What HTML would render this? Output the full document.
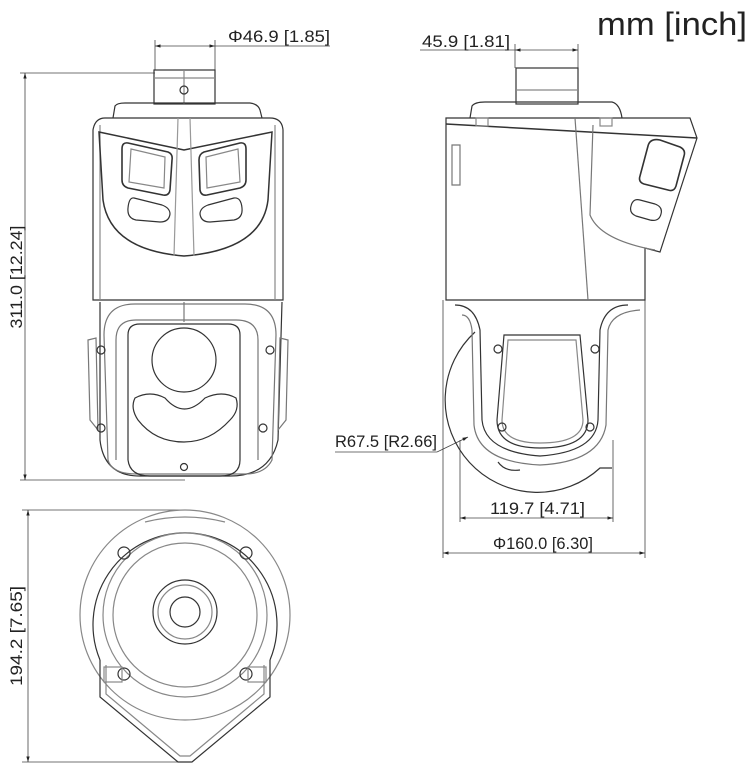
<!DOCTYPE html>
<html><head><meta charset="utf-8"><style>
html,body{margin:0;padding:0;background:#fff;}
svg{display:block;}
text{font-family:"Liberation Sans",sans-serif;fill:#222;}
</style></head><body>
<svg width="753" height="767" viewBox="0 0 753 767" xmlns="http://www.w3.org/2000/svg">
<defs>
<marker id="a" viewBox="0 0 10 10" refX="10" refY="5" markerWidth="7" markerHeight="7" orient="auto-start-reverse"><path d="M0,2 L10,5 L0,8 z" fill="#222"/></marker>
</defs>
<text x="597" y="35" font-size="32" fill="#444" textLength="150" lengthAdjust="spacingAndGlyphs">mm [inch]</text>

<g stroke="#444" stroke-width="0.8" fill="none">
<line x1="155" y1="46" x2="215" y2="46" marker-start="url(#a)" marker-end="url(#a)"/>
<line x1="215" y1="46" x2="330" y2="46"/>
<line x1="155" y1="40" x2="155" y2="70"/>
<line x1="215" y1="40" x2="215" y2="70"/>
<line x1="20" y1="73" x2="155" y2="73"/>
<line x1="20" y1="480" x2="185" y2="480"/>
<line x1="25" y1="73" x2="25" y2="480" marker-start="url(#a)" marker-end="url(#a)"/>
</g>
<text x="228" y="42" font-size="17" textLength="102" lengthAdjust="spacingAndGlyphs">Φ46.9 [1.85]</text>
<text transform="translate(22,277) rotate(-90)" font-size="17" text-anchor="middle" textLength="103" lengthAdjust="spacingAndGlyphs">311.0 [12.24]</text>

<g stroke="#333" stroke-width="1.2" fill="none">
<rect x="154" y="70" width="61" height="34"/>
<line x1="154" y1="78" x2="215" y2="78" stroke="#888"/>
<line x1="184" y1="70" x2="184" y2="104" stroke="#888"/>
<circle cx="184" cy="90" r="4"/>
<path d="M113,118 L115,106 Q117,103 125,103 L250,103 Q258,104 260,110 L262,118"/>
<path d="M93,300 L93,130 Q95,118 105,118 L270,118 Q282,118 283,130 L283,300 Z"/>
<line x1="100" y1="125" x2="100" y2="300" stroke="#888"/>
<line x1="275" y1="125" x2="275" y2="300" stroke="#888"/>
<path d="M99,132 L184,150 L272,132 L268,200 Q262,250 184,256 Q110,250 103,200 Z" stroke-width="1.5"/>
<line x1="178" y1="118" x2="174" y2="256" stroke="#999"/>
<line x1="190" y1="118" x2="194" y2="256" stroke="#999"/>
<path d="M128,143 L168,152 Q173,154 172,160 L170,190 Q169,196 163,195 L128,188 Q122,186 122,180 L122,149 Q122,142 128,143 Z" stroke-width="1.6"/>
<path d="M131,149 L165,157 L164,188 L129,182 Z" stroke="#888"/>
<path d="M240,143 L204,152 Q199,154 199,160 L200,190 Q201,196 207,195 L240,188 Q246,186 246,180 L246,149 Q246,142 240,143 Z" stroke-width="1.6"/>
<path d="M238,149 L206,157 L207,188 L240,182 Z" stroke="#888"/>
<path d="M134,198 L162,205 Q170,208 170,214 Q169,222 160,222 L136,220 Q127,218 128,208 Q129,197 134,198 Z"/>
<path d="M234,198 L208,205 Q200,208 200,214 Q201,222 210,222 L234,220 Q243,218 242,208 Q241,197 234,198 Z"/>
<path d="M100,302 L100,440 Q104,476 140,476 L230,476 Q270,476 278,440 L282,302"/>
<path d="M104,335 Q104,304 135,304 L245,304 Q276,304 276,335 L272,460 Q265,474 245,474 L137,474 Q112,474 108,460 Z" stroke="#777"/>
<path d="M116,460 L116,340 Q116,320 136,320 L236,320 Q258,320 258,340 L258,460" stroke="#777"/>
<path d="M128,460 L128,335 Q128,324 140,324 L228,324 Q240,324 240,335 L240,460" />
<path d="M128,460 Q130,476 150,476 L220,476 Q240,476 240,460" />
<line x1="184" y1="302" x2="184" y2="322" stroke="#777"/>
<circle cx="184" cy="360" r="32"/>
<path d="M135,398 Q150,390 165,398 Q184,420 205,398 Q222,390 236,398 Q240,410 230,420 Q210,442 184,442 Q155,442 138,420 Q130,408 135,398 Z"/>
<circle cx="184" cy="467" r="3.5"/>
<path d="M88,340 L96,338 L98,430 L90,420 Z" stroke="#777"/>
<path d="M288,340 L280,338 L278,430 L286,420 Z" stroke="#777"/>
<circle cx="101" cy="350" r="4"/><circle cx="270" cy="350" r="4"/>
<circle cx="101" cy="428" r="4"/><circle cx="263" cy="428" r="4"/>
</g>

<g stroke="#444" stroke-width="0.8" fill="none">
<line x1="420" y1="50" x2="515" y2="50"/>
<line x1="515" y1="50" x2="578" y2="50" marker-start="url(#a)" marker-end="url(#a)"/>
<line x1="515" y1="44" x2="515" y2="68"/>
<line x1="578" y1="44" x2="578" y2="68"/>
<line x1="443" y1="300" x2="443" y2="558"/>
<line x1="645" y1="300" x2="645" y2="558"/>
<line x1="443" y1="553" x2="645" y2="553" marker-start="url(#a)" marker-end="url(#a)"/>
<line x1="460" y1="440" x2="460" y2="522"/>
<line x1="613" y1="440" x2="613" y2="522"/>
<line x1="460" y1="518" x2="613" y2="518" marker-start="url(#a)" marker-end="url(#a)"/>
<line x1="335" y1="452" x2="437" y2="452"/>
<line x1="437" y1="452" x2="468" y2="437" marker-end="url(#a)"/>
</g>
<text x="422" y="47" font-size="17" textLength="88" lengthAdjust="spacingAndGlyphs">45.9 [1.81]</text>
<text x="490" y="514" font-size="17" textLength="95" lengthAdjust="spacingAndGlyphs">119.7 [4.71]</text>
<text x="493" y="549" font-size="17" textLength="100" lengthAdjust="spacingAndGlyphs">Φ160.0 [6.30]</text>
<text x="335" y="447" font-size="17" textLength="102" lengthAdjust="spacingAndGlyphs">R67.5 [R2.66]</text>

<g stroke="#333" stroke-width="1.2" fill="none">
<rect x="516" y="68" width="62" height="36"/>
<line x1="516" y1="90" x2="578" y2="90" stroke="#888"/>
<path d="M470,118 L472,106 Q475,102 485,102 L612,102 Q620,104 622,118"/>
<path d="M446,300 L446,118 L690,118 L697,138 L660,252 L645,248 L645,300 Z"/>
<line x1="446" y1="124" x2="697" y2="138" stroke-width="1.5"/>
<line x1="575" y1="118" x2="588" y2="300" stroke="#777"/>
<path d="M593,125 L590,215 Q600,240 655,250" stroke="#777"/>
<path d="M660,140 L680,147 Q686,150 684,156 L676,186 Q674,192 668,190 L644,184 Q638,182 640,176 L648,146 Q650,138 660,140 Z" stroke-width="1.6"/>
<path d="M640,200 L655,204 Q663,207 661,214 Q659,222 650,220 L636,216 Q629,213 631,206 Q633,198 640,200 Z"/>
<path d="M452,145 L460,145 L460,185 L452,185 Z" stroke="#777"/>
<rect x="476" y="118" width="12" height="8" stroke="#888"/>
<rect x="600" y="118" width="12" height="8" stroke="#888"/>
<path d="M475,332 A88,88 0 0 0 600,468 L612,468" />
<path d="M455,305 Q475,305 480,330 L482,420 Q485,452 540,456 Q596,452 598,420 L600,330 Q605,305 628,305" />
<path d="M462,315 Q470,315 472,330 L474,425 Q478,462 540,465 Q600,462 606,425 L608,330 Q612,312 640,310" stroke="#777"/>
<path d="M497,420 L504,335 L580,335 L588,420 Q588,448 540,448 Q497,448 497,420 Z"/>
<path d="M502,420 L508,340 L576,340 L583,420 Q583,443 540,443 Q502,443 502,420 Z" stroke="#888"/>
<path d="M498,462 Q505,472 520,470" />
<circle cx="498" cy="349" r="4"/><circle cx="595" cy="349" r="4"/>
<circle cx="502" cy="427" r="4"/><circle cx="590" cy="427" r="4"/>
</g>

<g stroke="#444" stroke-width="0.8" fill="none">
<line x1="22" y1="510" x2="185" y2="510"/>
<line x1="22" y1="762" x2="185" y2="762"/>
<line x1="28" y1="510" x2="28" y2="762" marker-start="url(#a)" marker-end="url(#a)"/>
</g>
<text transform="translate(22,636) rotate(-90)" font-size="17" text-anchor="middle" textLength="100" lengthAdjust="spacingAndGlyphs">194.2 [7.65]</text>
<g stroke="#333" stroke-width="1.2" fill="none">
<circle cx="185" cy="615" r="105" stroke="#888"/>
<path d="M100,660 A92,92 0 1 1 270,660" />
<path d="M100,660 L100,697 L178,762 L192,762 L270,697 L270,660"/>
<path d="M106,665 L106,694 L180,756 L190,756 L264,694 L264,665" stroke="#888"/>
<circle cx="185" cy="615" r="82" stroke="#888"/>
<circle cx="185" cy="615" r="72" stroke="#888"/>
<circle cx="185" cy="612" r="32"/>
<circle cx="185" cy="612" r="27" stroke="#888"/>
<circle cx="185" cy="612" r="15"/>
<circle cx="124" cy="553" r="6"/><circle cx="246" cy="553" r="6"/>
<circle cx="124" cy="674" r="6"/><circle cx="246" cy="674" r="6"/>
<rect x="104" y="667" width="18" height="15" stroke="#888"/>
<rect x="248" y="667" width="18" height="15" stroke="#888"/>
<path d="M145,522 Q185,512 225,522" stroke="#888"/>
</g>
</svg>
</body></html>
